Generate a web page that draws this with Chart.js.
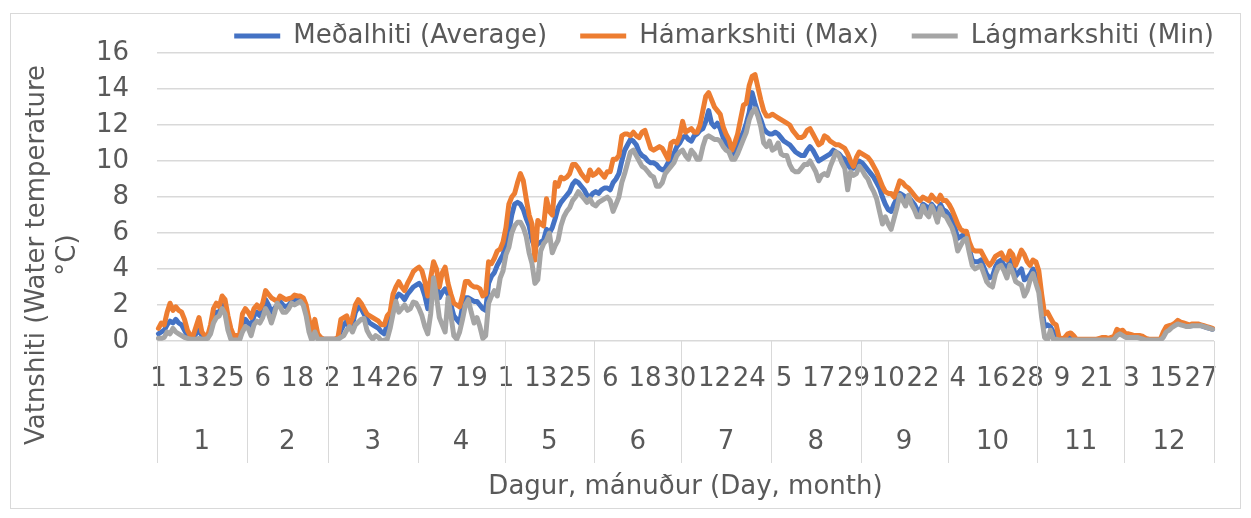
<!DOCTYPE html>
<html>
<head>
<meta charset="utf-8">
<script src="https://cdn.jsdelivr.net/npm/chart.js@4.4.0/dist/chart.umd.min.js"></script>
<style>
  html, body { margin: 0; padding: 0; background: #fff; }
  #wrap { width: 1251px; height: 518px; }
</style>
</head>
<body>
<div id="wrap"><canvas id="chart" width="1251" height="518"></canvas></div>
<script>
// --- Data ---
const months = ['1', '2', '3', '4', '5', '6', '7', '8', '9', '10', '11', '12'];
const monthDays = [31, 28, 31, 30, 31, 30, 31, 31, 30, 31, 30, 31];
const yTicks = { min: 0, max: 16, step: 2 };

// Meðalhiti (Average)
const avgTemp = [
  0.4,0.5,0.6,0.9,1.1,1.0,1.2,1.0,0.9,0.6, 0.3,0.2,0.2,0.4,0.6,0.3,0.2,0.2,0.6,1.2, 1.6,1.6,2.0,1.8,1.0,0.4,0.1,0.1,0.1,0.9, 1.2,
  1.0,0.8,1.4,1.6,1.4,1.7,2.3,2.0,1.6,1.8, 2.0,2.2,2.0,1.9,2.0,2.2,2.3,2.3,2.3,2.2, 1.6,0.8,0.3,0.8,0.2,0.1,0.1,0.1,
  0.1,0.1,0.1,0.1,0.6,0.9,1.1,0.7,0.9,1.6, 1.9,1.8,1.5,1.2,1.0,0.9,0.8,0.7,0.5,0.4, 0.9,1.2,1.9,2.4,2.6,2.5,2.3,2.6,2.8,3.0, 3.1,
  3.2,3.0,2.5,1.8,2.6,3.5,3.2,2.4,2.7,2.9, 2.6,2.0,1.4,1.2,1.0,1.9,2.4,2.4,2.3,2.2, 2.2,2.0,1.8,1.7,3.2,3.6,3.8,4.2,4.5,4.8,
  5.4,6.1,7.0,7.6,7.7,7.6,7.3,6.8,6.4,5.6, 5.2,5.4,5.5,5.6,6.2,6.0,6.3,6.8,7.4,7.7, 7.9,8.1,8.3,8.7,8.9,8.8,8.6,8.4,8.1,8.0, 8.2,
  8.3,8.2,8.4,8.5,8.5,8.4,8.8,9.0,9.3,10.0, 10.6,10.9,11.2,11.1,10.9,10.5,10.3,10.2,10.0,9.9, 9.9,9.8,9.6,9.5,9.6,9.9,10.1,10.4,10.8,11.0,
  11.3,11.4,11.2,11.1,11.4,11.5,11.7,11.8,12.2,12.8, 12.1,11.9,12.1,11.8,11.3,11.0,10.8,10.3,10.6,11.0, 11.3,11.6,12.1,12.7,13.8,13.2,12.7,12.3,11.8,11.6, 11.5,
  11.5,11.6,11.5,11.3,11.1,11.0,10.9,10.7,10.5,10.4, 10.3,10.3,10.6,10.8,10.6,10.3,10.0,10.1,10.2,10.3, 10.4,10.6,10.5,10.4,10.2,10.1,9.8,9.6,9.6,9.8, 10.0,
  9.9,9.7,9.5,9.3,9.1,8.8,8.5,8.0,7.6,7.3, 7.2,7.6,7.9,8.2,8.1,8.0,8.0,7.8,7.6,7.3, 7.2,7.6,7.5,7.3,7.6,7.4,7.1,7.6,7.3,7.2,
  7.0,6.7,6.3,5.7,5.8,5.9,5.9,5.1,4.5,4.4, 4.4,4.5,4.1,3.7,3.5,3.6,4.1,4.4,4.5,4.2, 3.9,4.5,4.2,3.6,3.8,4.0,3.4,3.5,3.7,4.0, 3.6,
  3.0,1.8,0.8,0.9,0.8,0.5,0.4,0.1,0.05,0.1, 0.2,0.2,0.15,0.05,0.05,0.05,0.05,0.05,0.05,0.05, 0.05,0.1,0.1,0.1,0.1,0.1,0.15,0.4,0.45,0.4,
  0.3,0.3,0.25,0.25,0.25,0.2,0.15,0.1,0.05,0.05, 0.05,0.05,0.05,0.3,0.6,0.7,0.8,0.9,1.0,0.95, 0.9,0.85,0.85,0.85,0.9,0.9,0.85,0.8,0.75,0.7, 0.65
];

// Hámarkshiti (Max)
const maxTemp = [
  0.7,1.0,0.9,1.6,2.1,1.7,1.9,1.7,1.6,1.2, 0.6,0.3,0.3,0.8,1.3,0.5,0.3,0.3,0.9,1.8, 2.1,1.9,2.5,2.3,1.4,0.7,0.3,0.3,0.3,1.5, 1.8,
  1.6,1.3,1.8,2.0,1.8,2.1,2.8,2.6,2.4,2.3, 2.2,2.5,2.4,2.3,2.35,2.4,2.55,2.5,2.5,2.4, 2.0,1.2,0.5,1.2,0.4,0.2,0.1,0.1,
  0.1,0.1,0.1,0.2,1.2,1.3,1.4,0.9,1.3,2.0, 2.3,2.1,1.8,1.5,1.4,1.3,1.2,1.1,0.9,0.9, 1.4,1.6,2.6,3.0,3.3,3.0,2.8,3.2,3.5,3.85, 4.0,
  4.1,3.9,3.3,2.5,3.5,4.4,4.0,3.0,3.8,4.1, 3.2,2.6,2.1,2.0,1.9,2.5,3.3,3.3,3.1,3.0, 3.0,2.9,2.5,2.6,4.4,4.3,4.6,5.0,5.1,5.5,
  6.3,7.6,8.0,8.2,8.8,9.3,8.9,7.9,7.0,6.5, 4.5,6.7,6.5,6.4,7.9,7.2,7.0,8.8,8.6,9.1, 9.0,9.1,9.3,9.8,9.8,9.6,9.3,9.1,8.9,9.5, 9.2,
  9.3,9.5,9.3,9.1,9.4,9.4,10.1,10.1,10.3,11.4, 11.5,11.5,11.4,11.6,11.4,11.3,11.6,11.7,11.2,10.7, 10.6,10.7,10.8,10.7,10.4,10.1,11.0,11.1,11.0,11.4,
  12.2,11.6,11.7,11.8,11.6,11.6,12.0,12.8,13.6,13.8, 13.4,13.0,12.8,12.6,11.9,11.5,11.2,10.6,11.0,11.5, 12.3,13.1,13.2,14.2,14.7,14.8,14.1,13.4,12.8,12.5, 12.5,
  12.6,12.5,12.4,12.3,12.2,12.1,12.0,11.7,11.5,11.3, 11.3,11.4,11.7,11.8,11.5,11.2,10.9,11.0,11.4,11.3, 11.1,11.0,10.9,10.9,10.8,10.7,10.4,10.0,9.7,10.2, 10.5,
  10.4,10.3,10.2,10.0,9.7,9.4,9.0,8.6,8.3,8.2, 8.2,8.0,8.4,8.9,8.8,8.6,8.5,8.3,8.1,7.9, 7.8,8.0,7.9,7.8,8.1,7.9,7.75,8.1,7.8,7.8,
  7.6,7.3,6.9,6.5,6.2,6.1,6.1,5.5,5.1,5.0, 5.0,5.0,4.7,4.4,4.2,4.4,4.7,4.8,4.9,4.6, 4.5,5.0,4.8,4.2,4.6,5.05,4.8,4.4,4.2,4.5, 4.4,
  3.9,2.6,1.5,1.6,1.3,1.0,0.9,0.2,0.1,0.2, 0.4,0.45,0.3,0.1,0.1,0.1,0.1,0.1,0.1,0.1, 0.1,0.15,0.2,0.2,0.15,0.2,0.25,0.65,0.55,0.6,
  0.4,0.4,0.35,0.3,0.3,0.3,0.25,0.15,0.1,0.1, 0.1,0.1,0.1,0.5,0.8,0.85,0.9,1.0,1.15,1.05, 1.0,0.95,0.9,0.95,0.95,0.95,0.9,0.85,0.8,0.75, 0.7
];

// Lágmarkshiti (Min)
const minTemp = [
  0.15,0.15,0.2,0.5,0.4,0.7,0.5,0.4,0.3,0.2, 0.15,0.1,0.1,0.1,0.15,0.1,0.1,0.15,0.4,1.0, 1.3,1.4,1.8,1.5,0.6,0.1,0.05,0.05,0.05,0.5, 0.8,
  0.7,0.3,0.9,1.1,1.0,1.3,1.8,1.5,1.0,1.5, 2.1,1.9,1.6,1.6,1.8,2.1,2.0,2.1,2.2,2.0, 1.4,0.5,0.0,0.5,0.1,0.1,0.1,0.1,
  0.1,0.1,0.1,0.1,0.2,0.3,0.6,0.8,0.5,0.9, 1.05,1.2,1.25,0.6,0.3,0.1,0.3,0.2,0.0,0.05, 0.1,0.7,1.5,2.2,1.6,1.8,2.0,1.7,1.8,2.16, 2.1,
  1.8,1.4,0.8,0.4,1.5,3.5,2.5,1.3,0.9,0.5, 2.4,1.4,0.3,0.1,0.5,1.2,2.0,2.3,1.6,1.0, 1.3,0.8,0.15,0.3,2.1,2.5,2.8,2.5,3.5,3.9,
  4.8,5.2,6.0,6.4,6.6,6.6,6.3,5.8,4.9,4.3, 3.2,3.4,5.0,5.4,5.6,6.0,4.9,5.3,5.6,6.4, 6.9,7.2,7.4,7.8,8.0,8.3,8.1,7.9,7.7,7.9, 7.6,
  7.5,7.7,7.8,7.9,8.0,7.8,7.2,7.6,8.0,8.8, 9.3,9.9,10.5,10.6,10.3,10.0,9.7,9.6,9.4,9.2, 9.1,8.6,8.6,8.8,9.3,9.5,9.7,9.9,10.3,10.5,
  10.6,10.3,10.1,10.6,10.4,10.1,10.1,10.8,11.3,11.4, 11.3,11.2,11.2,11.1,10.8,10.6,10.5,10.1,10.1,10.4, 10.8,11.2,11.6,12.3,12.7,12.9,12.5,11.9,11.0,10.8, 11.1,
  10.6,10.7,11.0,10.4,10.3,10.3,9.8,9.5,9.4,9.4, 9.6,9.8,9.8,10.0,9.7,9.4,8.9,9.2,9.3,9.2, 9.7,10.1,10.5,10.3,9.9,9.6,8.4,9.4,9.2,9.3, 9.7,
  9.5,9.2,9.0,8.6,8.3,7.9,7.2,6.5,6.9,6.5, 6.2,6.8,7.4,8.1,7.8,7.5,8.1,7.6,7.3,6.9, 6.9,7.5,7.1,6.9,7.5,7.1,6.6,7.4,7.0,6.9,
  6.6,6.3,5.8,5.0,5.3,5.6,5.7,4.9,4.2,4.0, 4.1,4.2,3.75,3.3,3.1,3.0,3.7,4.1,4.2,3.9, 3.5,4.2,3.8,3.3,3.2,3.1,2.5,2.8,3.4,3.75, 3.2,
  2.7,1.3,0.2,0.05,0.6,0.1,0.1,0.05,0.05,0.05, 0.05,0.05,0.05,0.05,0.05,0.05,0.05,0.05,0.05,0.05, 0.05,0.05,0.05,0.05,0.05,0.05,0.1,0.3,0.4,0.3,
  0.2,0.2,0.2,0.2,0.2,0.15,0.1,0.05,0.05,0.05, 0.05,0.05,0.05,0.2,0.5,0.6,0.75,0.85,0.95,0.9, 0.85,0.8,0.8,0.85,0.85,0.85,0.85,0.8,0.75,0.7, 0.65
];

// Day-of-month category labels built from the month lengths
const dayLabels = [];
monthDays.forEach(n => { for (let d = 1; d <= n; d++) dayLabels.push(String(d)); });

const textColor = '#595959';
const gridColor = '#d9d9d9';
const baseFont = { family: 'DejaVu Sans', size: 26 };

// Month row, separators, y title and outer frame
const axisExtras = {
    id: 'axisExtras',
    afterDraw(chart) {
        const ctx = chart.ctx;
        const xs = chart.scales.x;
        const area = chart.chartArea;
        const half = (xs.getPixelForValue(1) - xs.getPixelForValue(0)) / 2;

        ctx.save();
        ctx.strokeStyle = gridColor;
        ctx.lineWidth = 1;
        ctx.fillStyle = textColor;
        ctx.font = '26px "DejaVu Sans"';
        ctx.textAlign = 'center';
        ctx.textBaseline = 'middle';

        let start = 0;
        monthDays.forEach((n, m) => {
            const left = xs.getPixelForValue(start) - half;
            const right = xs.getPixelForValue(start + n - 1) + half;
            ctx.beginPath();
            ctx.moveTo(Math.round(left) + 0.5, area.bottom);
            ctx.lineTo(Math.round(left) + 0.5, 463);
            ctx.stroke();
            if (m === monthDays.length - 1) {
                ctx.beginPath();
                ctx.moveTo(Math.round(right) + 0.5, area.bottom);
                ctx.lineTo(Math.round(right) + 0.5, 463);
                ctx.stroke();
            }
            ctx.fillText(months[m], (left + right) / 2, 442);
            start += n;
        });

        // y axis title (two lines)
        ctx.save();
        ctx.translate(37, 255);
        ctx.rotate(-Math.PI / 2);
        ctx.fillText('Vatnshiti (Water temperature', 0, 0);
        ctx.restore();
        ctx.save();
        ctx.translate(68, 255);
        ctx.rotate(-Math.PI / 2);
        ctx.fillText('°C)', 0, 0);
        ctx.restore();

        // chart frame
        ctx.strokeRect(10.5, 13.5, 1230, 495);
        ctx.restore();
    }
};

new Chart(document.getElementById('chart'), {
    type: 'line',
    data: {
        labels: dayLabels,
        datasets: [
            { label: 'Meðalhiti (Average)', data: avgTemp, borderColor: '#4472c4', backgroundColor: '#4472c4', order: 3 },
            { label: 'Hámarkshiti (Max)', data: maxTemp, borderColor: '#ed7d31', backgroundColor: '#ed7d31', order: 2 },
            { label: 'Lágmarkshiti (Min)', data: minTemp, borderColor: '#a5a5a5', backgroundColor: '#a5a5a5', order: 1 }
        ]
    },
    options: {
        responsive: false,
        animation: false,
        devicePixelRatio: 1,
        layout: { padding: { top: 23, right: 37, bottom: 0, left: 0 } },
        elements: {
            line: { borderWidth: 5, tension: 0, fill: false, borderJoinStyle: 'round', borderCapStyle: 'round' },
            point: { radius: 0 }
        },
        plugins: {
            tooltip: { enabled: false },
            legend: {
                position: 'top',
                align: 'end',
                maxHeight: 30,
                labels: {
                    color: textColor,
                    font: baseFont,
                    boxWidth: 46,
                    boxHeight: 5,
                    padding: 0,
                    generateLabels(chart) {
                        const items = Chart.defaults.plugins.legend.labels.generateLabels(chart);
                        items.sort((a, b) => a.datasetIndex - b.datasetIndex);
                        return items.map((it, i) => Object.assign(it, {
                            lineWidth: 0,
                            text: i < items.length - 1 ? it.text + '    ' : it.text
                        }));
                    }
                }
            }
        },
        scales: {
            x: {
                type: 'category',
                offset: true,
                grid: { display: false, drawTicks: false },
                border: { display: false },
                ticks: {
                    autoSkip: false,
                    maxRotation: 0,
                    minRotation: 0,
                    padding: 23,
                    color: textColor,
                    font: baseFont,
                    callback: (v, i) => (i % 12 === 0 ? dayLabels[i] : '')
                },
                title: {
                    display: true,
                    text: 'Dagur, mánuður (Day, month)',
                    color: textColor,
                    font: baseFont,
                    padding: { top: 0, bottom: 15 }
                },
                afterFit: (s) => { s.height = 177; }
            },
            y: {
                min: yTicks.min,
                max: yTicks.max,
                grid: { color: gridColor, lineWidth: 1.5, drawTicks: false },
                border: { display: false },
                ticks: { stepSize: yTicks.step, padding: 28, color: textColor, font: baseFont },
                afterFit: (s) => { s.width = 157; }
            }
        }
    },
    plugins: [axisExtras]
});
</script>
</body>
</html>
